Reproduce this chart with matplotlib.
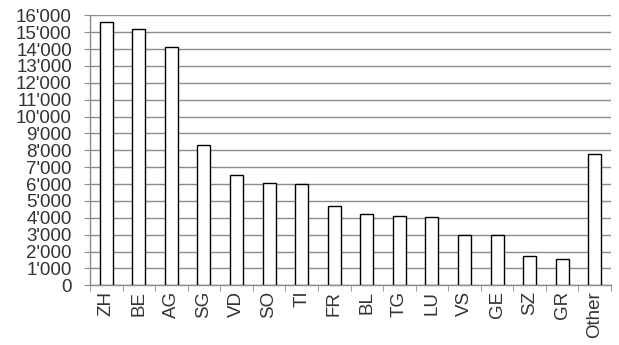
import matplotlib
matplotlib.use("Agg")
import matplotlib.pyplot as plt
from matplotlib.ticker import FuncFormatter, FixedLocator

categories = ["ZH", "BE", "AG", "SG", "VD", "SO", "TI", "FR", "BL", "TG", "LU", "VS", "GE", "SZ", "GR", "Other"]
values = [15620, 15190, 14100, 8310, 6540, 6040, 6030, 4720, 4210, 4090, 4050, 2980, 2980, 1760, 1560, 7800]

plt.rcParams['font.family'] = ['Liberation Sans', 'DejaVu Sans']

fig = plt.figure(figsize=(6.19, 3.45), dpi=100)
ax = fig.add_axes([90/619, 1 - 285.3/345, (611-90)/619, (285.3-15.3)/345])

x = list(range(len(categories)))
ax.bar(x, values, width=0.4, color="white", edgecolor="black", linewidth=1.0, zorder=3)

ax.set_ylim(0, 16000)
ax.set_xlim(-0.5, len(categories) - 0.5)
ax.set_yticks(range(0, 16001, 1000))
ax.yaxis.set_major_formatter(FuncFormatter(lambda v, p: f"{int(v):,}".replace(",", "'")))
ax.grid(axis="y", color="#8c8c8c", linewidth=1.0, zorder=0)

ax.set_xticks(x)
ax.set_xticklabels(categories, rotation=90)
ax.xaxis.set_minor_locator(FixedLocator([i - 0.5 for i in range(len(categories) + 1)]))
ax.tick_params(axis="x", which="major", length=0, pad=4, labelsize=13.5, labelcolor="#333333")
ax.tick_params(axis="x", which="minor", length=4, color="#8c8c8c", direction="out")
ax.tick_params(axis="y", length=4, color="#8c8c8c", labelsize=13.5, labelcolor="#333333", pad=9)

for s in ["top", "right"]:
    ax.spines[s].set_visible(False)
for s in ["left", "bottom"]:
    ax.spines[s].set_color("#8c8c8c")
    ax.spines[s].set_linewidth(1.0)

fig.savefig("out.png", dpi=100)
